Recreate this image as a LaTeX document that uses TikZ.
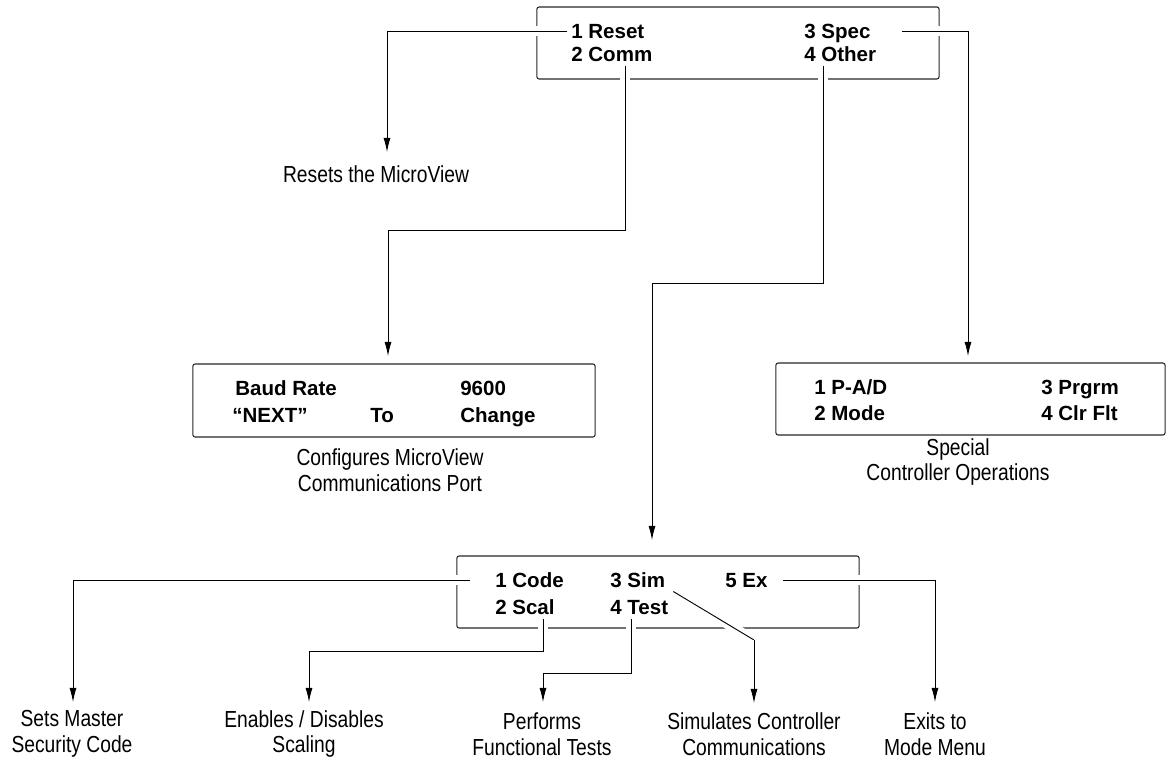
\documentclass[tikz,border=0pt]{standalone}
\usepackage{fontspec}
\setmainfont{Liberation Sans}
\newfontfamily\capfont{Liberation Sans}[FakeStretch=0.83]
\usetikzlibrary{arrows.meta,calc}
\tikzset{menubox/.style={draw=black!85, line width=0.75pt, rounded corners=1.5pt, inner sep=0pt},
  item/.style={font=\fontsize{14.6}{18}\selectfont\bfseries, anchor=west, text height=10.4pt, text depth=0pt, inner xsep=0pt, inner ysep=2.8pt},
  caption/.style={font=\capfont\fontsize{16.5}{18.4}\selectfont, align=center, inner sep=0pt},
  conn/.style={line width=0.65pt, -{Latex[length=10pt,width=5pt]}, preaction={draw=white, line width=7pt, -}},
  plain/.style={line width=0.65pt, preaction={draw=white, line width=7pt}}}
\begin{document}
\begin{tikzpicture}[x=0.025cm, y=-0.025cm]
  \useasboundingbox (0,0) rectangle (1173,762);
  \node[menubox, minimum width=10.05cm, minimum height=1.8cm] (topbox) at (738,43) {};
  \node[menubox, minimum width=10.05cm, minimum height=1.825cm] (baudbox) at (394,400.5) {};
  \node[menubox, minimum width=9.725cm, minimum height=1.8cm] (specbox) at (970.5,399) {};
  \node[menubox, minimum width=10.05cm, minimum height=1.8cm] (testbox) at (658,592) {};

  \node[item] (reset) at (571,31) {1 Reset};
  \node[item] (comm) at (571,54) {2 Comm};
  \node[item] (spec) at (804,31) {3 Spec};
  \node[item] (other) at (804,54) {4 Other};

  \node[item] (baud) at (235,388) {Baud Rate};
  \node[item] (rate) at (460,388) {9600};
  \node[item] (next) at (232,415) {“NEXT”};
  \node[item] (to) at (370,415) {To};
  \node[item] (change) at (460,415) {Change};

  \node[item] (pad) at (814,387) {1 P-A/D};
  \node[item] (prgrm) at (1041,387) {3 Prgrm};
  \node[item] (mode) at (814,413) {2 Mode};
  \node[item] (clrflt) at (1041,413) {4 Clr Flt};

  \node[item] (code) at (495,580) {1 Code};
  \node[item] (scal) at (495,607) {2 Scal};
  \node[item] (sim) at (610,580) {3 Sim};
  \node[item] (test) at (610,607) {4 Test};
  \node[item] (ex) at (725,580) {5 Ex};

  \node[caption] (resetcap) at (376,174) {Resets the MicroView};
  \node[caption] (baudcap) at (390,470) {Configures MicroView\\Communications Port};
  \node[caption] (speccap) at (958,462) {Special\\Controller Operations};
  \node[caption] (codecap) at (72,734) {Sets Master\\Security Code};
  \node[caption] (scalcap) at (304,734) {Enables / Disables\\Scaling};
  \node[caption] (testcap) at (542,734) {Performs\\Functional Tests};
  \node[caption] (simcap) at (754,734) {Simulates Controller\\Communications};
  \node[caption] (excap) at (935,734) {Exits to\\Mode Menu};

  \coordinate (resettip) at (387,152);
  \coordinate (commbend) at (625,230);
  \coordinate (baudtip) at (388,356);
  \coordinate (otherbend) at (823,283);
  \coordinate (othertip) at (652,540);
  \coordinate (spectip) at (968,356);
  \coordinate (codetip) at (73,702);
  \coordinate (scalbend) at (543,651);
  \coordinate (scaltip) at (309,702);
  \coordinate (testbend) at (631,673);
  \coordinate (testtip) at (543,702);
  \coordinate (simbend) at (754,640);
  \coordinate (simtip) at (754,703);
  \coordinate (extip) at (935,702);

  \draw[conn] ($(reset.west)+(-4,0)$) -| (resettip);
  \draw[conn] (comm.south -| commbend) -- (commbend) -| (baudtip);
  \draw[conn] (other.south -| otherbend) -- (otherbend) -| (othertip);
  \draw[conn] ($(spec.east)+(31,0)$) -| (spectip);
  \draw[conn] ($(code.west)+(-25,0)$) -| (codetip);
  \draw[conn] (scal.south -| scalbend) -- (scalbend) -| (scaltip);
  \draw[conn] (test.south -| testbend) -- (testbend) -| (testtip);
  \draw[plain] ($(sim.south east)+(8,0)$) -- (simbend);
  \draw[conn] (simbend) -- (simtip);
  \draw[conn] ($(ex.east)+(15,0)$) -| (extip);
\end{tikzpicture}
\end{document}
